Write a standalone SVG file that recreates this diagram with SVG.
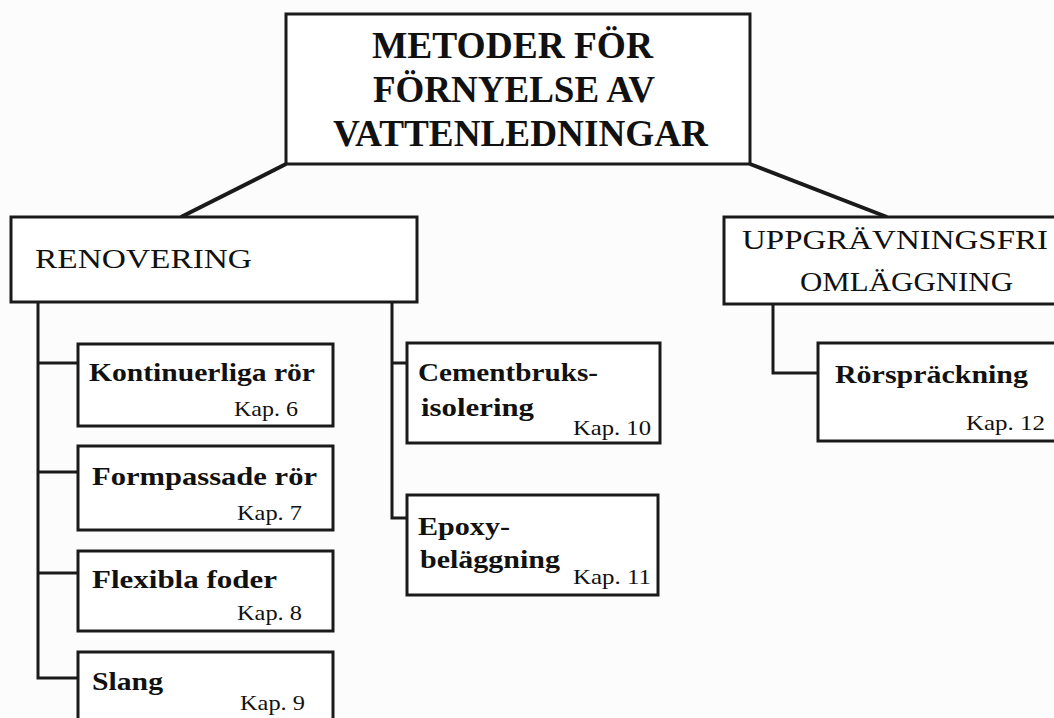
<svg xmlns="http://www.w3.org/2000/svg" width="1054" height="718" viewBox="0 0 1054 718">
  <style>
    .box { fill: #ffffff; stroke: #1a1a1a; stroke-width: 3; }
    .conn { fill: none; stroke: #1a1a1a; stroke-width: 3; stroke-linejoin: miter; }
    .diag { fill: none; stroke: #1a1a1a; stroke-width: 4; }
    .title { font-family: "Liberation Serif", "Times New Roman", serif; font-weight: bold; font-size: 37px; fill: #111; }
    .head { font-family: "Liberation Serif", "Times New Roman", serif; font-size: 27px; fill: #111; }
    .leaf { font-family: "Liberation Serif", "Times New Roman", serif; font-weight: bold; font-size: 25px; fill: #111; }
    .kap { font-family: "Liberation Serif", "Times New Roman", serif; font-size: 21px; fill: #111; }
  </style>
  <rect x="0" y="0" width="1054" height="718" fill="#fcfcfc"/>

  <g id="connectors">
    <line class="diag" x1="286" y1="164" x2="181" y2="217"/>
    <line class="diag" x1="750" y1="164" x2="887" y2="217"/>
    <polyline class="conn" points="38,302 38,678 78,678"/>
    <line class="conn" x1="38" y1="363" x2="78" y2="363"/>
    <line class="conn" x1="38" y1="472" x2="78" y2="472"/>
    <line class="conn" x1="38" y1="573" x2="78" y2="573"/>
    <polyline class="conn" points="392,302 392,518 407,518"/>
    <line class="conn" x1="392" y1="363" x2="407" y2="363"/>
    <polyline class="conn" points="773,304 773,373 818,373"/>
  </g>

  <g id="n-root">
    <rect class="box" x="286" y="14" width="464" height="150"/>
    <text class="title" x="372" y="58" textLength="281" lengthAdjust="spacingAndGlyphs">METODER FÖR</text>
    <text class="title" x="373" y="102" textLength="282" lengthAdjust="spacingAndGlyphs">FÖRNYELSE AV</text>
    <text class="title" x="333" y="146" textLength="375" lengthAdjust="spacingAndGlyphs">VATTENLEDNINGAR</text>
  </g>

  <g id="n-renovering">
    <rect class="box" x="11" y="217" width="406" height="85"/>
    <text class="head" x="35" y="268" textLength="217" lengthAdjust="spacingAndGlyphs">RENOVERING</text>
  </g>

  <g id="n-uppgravningsfri">
    <rect class="box" x="724" y="217" width="340" height="87"/>
    <text class="head" x="742" y="249" textLength="306" lengthAdjust="spacingAndGlyphs">UPPGRÄVNINGSFRI</text>
    <text class="head" x="800" y="291" textLength="213" lengthAdjust="spacingAndGlyphs">OMLÄGGNING</text>
  </g>

  <g id="n-kontinuerliga">
    <rect class="box" x="78" y="344" width="255" height="82"/>
    <text class="leaf" x="89" y="381" textLength="226" lengthAdjust="spacingAndGlyphs">Kontinuerliga rör</text>
    <text class="kap" x="234" y="416" textLength="64" lengthAdjust="spacingAndGlyphs">Kap. 6</text>
  </g>

  <g id="n-formpassade">
    <rect class="box" x="78" y="446" width="255" height="84"/>
    <text class="leaf" x="92" y="485" textLength="225" lengthAdjust="spacingAndGlyphs">Formpassade rör</text>
    <text class="kap" x="237" y="520" textLength="65" lengthAdjust="spacingAndGlyphs">Kap. 7</text>
  </g>

  <g id="n-flexibla">
    <rect class="box" x="78" y="551" width="255" height="80"/>
    <text class="leaf" x="92" y="588" textLength="185" lengthAdjust="spacingAndGlyphs">Flexibla foder</text>
    <text class="kap" x="237" y="620" textLength="65" lengthAdjust="spacingAndGlyphs">Kap. 8</text>
  </g>

  <g id="n-slang">
    <rect class="box" x="78" y="652" width="255" height="80"/>
    <text class="leaf" x="92" y="690" textLength="71" lengthAdjust="spacingAndGlyphs">Slang</text>
    <text class="kap" x="240" y="710" textLength="65" lengthAdjust="spacingAndGlyphs">Kap. 9</text>
  </g>

  <g id="n-cementbruks">
    <rect class="box" x="407" y="343" width="253" height="100"/>
    <text class="leaf" x="418" y="381" textLength="180" lengthAdjust="spacingAndGlyphs">Cementbruks-</text>
    <text class="leaf" x="421" y="416" textLength="113" lengthAdjust="spacingAndGlyphs">isolering</text>
    <text class="kap" x="573" y="435" textLength="78" lengthAdjust="spacingAndGlyphs">Kap. 10</text>
  </g>

  <g id="n-epoxy">
    <rect class="box" x="407" y="495" width="251" height="100"/>
    <text class="leaf" x="418" y="535" textLength="92" lengthAdjust="spacingAndGlyphs">Epoxy-</text>
    <text class="leaf" x="420" y="568" textLength="140" lengthAdjust="spacingAndGlyphs">beläggning</text>
    <text class="kap" x="573" y="584" textLength="78" lengthAdjust="spacingAndGlyphs">Kap. 11</text>
  </g>

  <g id="n-rorspräckning">
    <rect class="box" x="818" y="343" width="246" height="98"/>
    <text class="leaf" x="835" y="383" textLength="193" lengthAdjust="spacingAndGlyphs">Rörspräckning</text>
    <text class="kap" x="966" y="430" textLength="79" lengthAdjust="spacingAndGlyphs">Kap. 12</text>
  </g>
</svg>
